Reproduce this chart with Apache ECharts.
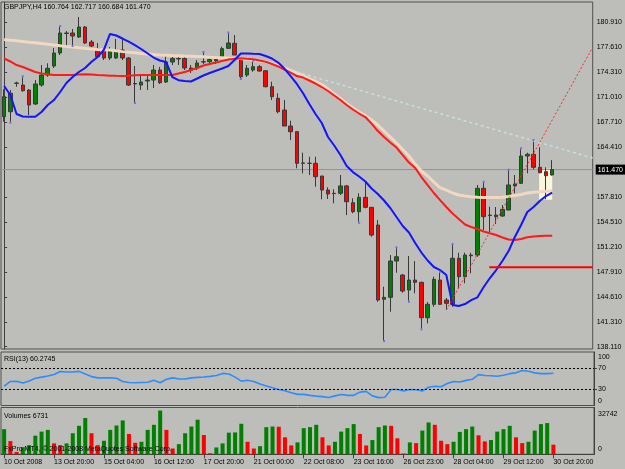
<!DOCTYPE html>
<html><head><meta charset="utf-8">
<script src="https://cdn.jsdelivr.net/npm/echarts@6/dist/echarts.min.js"></script>
<style>html,body{margin:0;padding:0;background:#bdbdb9}#c{width:625px;height:469px}</style>
</head><body><div id="c"></div>
<script>
// ---------- data ----------
const symbolName = 'GBPJPY,H4';
const opens = [168.45,169.11,172.86,172.63,171.97,170.13,172.63,173.95,175.14,176.86,
179.43,179.50,178.97,180.29,178.31,177.39,177.25,176.20,176.20,177.25,
176.20,172.83,172.63,173.16,173.29,174.61,173.03,175.67,176.07,176.13,
174.88,174.88,175.67,175.71,175.84,176.33,177.48,178.14,176.20,173.95,
174.61,175.05,174.52,172.41,170.88,169.33,167.22,166.47,162.30,162.30,
162.30,160.62,158.77,158.34,158.34,159.32,157.10,155.91,157.81,156.49,
154.15,144.35,144.61,149.40,147.55,145.57,146.89,146.59,141.92,143.69,
146.89,144.25,143.69,149.76,147.33,150.19,150.19,159.00,155.47,155.47,
155.34,156.13,159.32,159.66,163.26,163.49,161.77,161.19,160.764];
const closes = [171.09,171.54,172.90,171.88,169.99,172.77,173.95,174.84,176.86,179.50,
179.50,179.10,180.29,178.18,177.78,176.37,176.20,177.12,177.25,176.20,
172.63,172.77,173.03,173.29,174.61,172.94,175.67,176.13,176.13,174.88,
174.61,175.54,175.71,176.00,176.03,177.43,178.18,176.59,173.73,174.84,
175.05,174.48,172.41,171.09,169.11,167.22,166.47,162.30,162.35,162.30,
160.53,158.77,158.25,158.30,159.32,157.23,155.91,157.81,156.49,152.83,
144.25,144.61,149.40,149.97,145.44,146.89,146.59,141.92,143.69,146.99,
143.69,143.82,149.76,147.33,150.19,150.10,159.00,155.25,155.40,155.25,
156.22,159.44,159.57,163.26,163.49,161.77,161.06,160.66,161.470];
const lows = [167.79,167.79,172.41,171.75,168.67,169.99,172.41,173.73,174.88,176.59,
177.78,177.91,178.84,178.05,177.65,176.33,175.93,175.93,176.07,175.93,
172.50,170.39,171.97,171.97,172.24,172.77,172.90,175.27,175.27,174.61,
174.22,174.61,175.41,175.54,175.41,176.29,177.39,176.59,173.56,173.69,
174.39,174.39,172.33,170.65,168.90,167.22,165.37,161.64,160.98,160.75,
159.21,157.55,157.59,157.02,158.11,155.47,155.70,154.59,156.36,152.61,
144.03,138.97,142.71,147.86,145.22,144.16,145.14,140.52,141.18,143.37,
143.59,142.93,143.37,145.80,146.46,147.78,149.97,153.49,153.10,154.29,
155.25,156.13,158.34,159.57,160.98,161.50,160.98,157.55,160.684];
const highs = [172.07,171.97,173.07,173.65,172.10,173.29,175.27,175.50,177.52,180.29,
179.76,180.03,181.61,180.42,178.57,178.18,177.52,177.65,178.71,178.84,
176.33,175.14,174.09,173.95,175.27,175.01,176.59,176.33,176.33,176.33,
175.27,175.93,176.86,176.20,176.37,177.69,179.43,179.23,176.33,175.27,
175.71,175.27,174.61,173.07,171.54,170.65,167.92,166.56,163.70,163.17,
163.17,160.62,159.13,158.87,160.75,159.44,157.68,158.34,159.87,156.53,
154.81,146.01,150.19,151.08,147.69,150.06,149.40,146.67,143.99,147.33,
147.86,144.52,151.51,150.50,150.50,150.50,159.44,159.73,156.57,156.53,
156.79,161.32,160.75,164.15,163.70,165.24,164.41,161.77,162.717];
const maFast = [172.50,171.31,168.81,168.48,168.45,168.45,169.07,169.99,170.65,171.71,
172.90,173.69,174.35,174.88,175.67,176.33,177.25,179.37,179.17,178.77,
178.35,177.91,177.39,176.82,176.26,175.87,175.67,173.69,173.27,173.16,
173.10,173.49,173.89,174.22,174.52,174.81,175.14,175.93,176.79,176.79,
176.75,176.73,176.46,176.13,175.60,174.81,173.82,172.77,171.54,170.13,
168.81,167.62,165.77,164.65,163.39,161.94,161.14,160.55,159.90,158.97,
158.25,157.39,156.40,155.21,154.02,153.16,151.78,150.52,149.47,148.61,
148.21,147.55,143.59,143.46,143.72,144.25,144.61,145.97,147.16,148.21,
149.40,150.72,152.57,154.15,155.87,156.53,157.32,157.98,158.42];
const maMid = [176.13,175.74,175.27,175.01,174.68,174.35,174.15,174.05,173.95,173.95,
173.95,173.95,174.02,174.06,174.01,173.95,173.91,173.87,173.84,173.82,
173.86,173.91,173.95,173.95,173.95,173.95,173.95,173.95,174.15,174.35,
174.61,174.88,175.21,175.40,175.60,175.80,176.00,176.09,176.16,176.09,
176.03,175.87,175.71,175.41,175.08,174.68,174.28,173.82,173.62,173.23,
172.83,172.37,171.84,171.25,170.65,169.99,169.40,168.87,168.41,167.54,
166.56,165.77,165.04,164.38,163.39,162.40,161.68,160.49,159.43,158.38,
157.45,156.53,155.67,154.95,154.22,153.89,153.63,153.30,153.06,152.83,
152.50,152.24,152.17,152.30,152.53,152.64,152.70,152.73,152.74];
const maSlow = [178.64,178.55,178.47,178.38,178.28,178.20,178.11,178.01,177.91,177.81,
177.72,177.65,177.56,177.47,177.37,177.32,177.28,177.25,177.15,177.04,
176.95,176.88,176.80,176.74,176.66,176.59,176.57,176.53,176.50,176.46,
176.44,176.40,176.36,176.30,176.26,176.24,176.20,176.17,176.13,176.03,
175.92,175.81,175.71,175.45,175.17,174.89,174.57,174.24,173.89,173.49,
173.10,172.70,172.10,171.47,170.85,170.19,169.60,169.07,168.61,168.01,
167.35,166.56,165.77,164.98,164.12,163.26,162.20,161.28,160.62,159.83,
159.10,158.77,158.38,158.11,157.98,157.88,157.81,157.78,157.78,157.78,
157.81,157.92,158.05,158.18,158.38,158.47,158.53,158.60,158.64];
const rsi = [36,45,45.4,42,46,51,53,55,58,63.5,
62.7,62.7,63.8,59,54,51.6,51.6,51.6,51,45,
43,42.4,43,43.5,47.2,42.4,49,51.6,49.5,49.5,
51.6,52.5,53.3,54.5,56.2,60,59,53,45.5,47.2,
45,40,36.5,33,30,27.5,24,20.8,20.8,19,
17.5,16.6,15,18,20.5,19,19,25,26.4,18,
14.7,15.5,30,30,27,30,29.5,27,34,36,
35,41,45,44,47,49,57.7,56,55.5,54.8,
56.5,59.5,61,65.5,64,61,59.5,59.5,60.2745];
const volumes = [17580,9250,1640,4980,6400,13030,15870,17080,7620,6410,
7620,14730,19930,25410,14730,6410,9470,17080,20140,23700,
14240,8040,8760,17080,20640,30610,17080,4060,7120,14730,
19430,24200,13520,710,4770,7620,15160,15300,21350,8760,
4060,5690,19000,19430,19290,11890,6190,8330,18290,19000,
20640,11890,6190,8760,15870,18290,21140,14240,6190,9970,
19000,20140,19930,11180,500,8330,7830,16590,22280,20640,
9470,7120,8760,15660,17580,19430,13310,9040,9970,15870,
17580,19930,11890,7830,8760,16590,21140,21850,6731];
const timeLabels = ['10 Oct 2008','13 Oct 20:00','15 Oct 04:00','16 Oct 12:00','17 Oct 20:00','21 Oct 00:00',
'22 Oct 08:00','23 Oct 16:00','26 Oct 23:00','28 Oct 04:00','29 Oct 12:00','30 Oct 20:00'];
const priceTicks = [180.91,177.61,174.31,171.01,167.71,164.41,157.81,154.51,151.21,147.91,144.61,141.31,138.11];
const rsiTicks = [0,30,70,100];
const rsiLevels = [70,30];
const volTicks = [0,32742];
const bidPrice = 161.47;
const redTrend = [[71,142.93],[94.5,177.61]];
const cyanTrend = [[46,174.59],[94.5,163.0]];
const redLevel = [[77.9,148.57],[94.5,148.57]];
const boxCorners = [[85.9,161.58],[88,157.49]];
const fractalUpBars = [3,9,32,36,40,63,70,72,77,81,83,85];
const fractalDownBars = [1,11,21,38,57,61,65,67];
const slotCount = 95;
const labelStep = 8;

// ---------- chart ----------
const FONT = 'Liberation Sans';
const AX = '#404040';
const cats = Array.from({length: slotCount}, (_, i) => String(i));
const candles = opens.map((o, i) => [o, closes[i], lows[i], highs[i]]);
const volData = volumes.map((v, i) => ({
  value: v,
  itemStyle: {color: (i === 0 || v > volumes[i - 1]) ? '#008000' : '#ff0000'}
}));
const last = opens.length - 1;
const txt = {fontSize: 7, fontWeight: 'normal', color: '#000', fontFamily: FONT};
const chart = echarts.init(document.getElementById('c'), null, {renderer: 'canvas'});
const gridBase = {left: 1, width: 593, show: true, borderColor: '#505050', borderWidth: 1, backgroundColor: 'transparent'};

chart.setOption({
  animation: false,
  backgroundColor: '#bdbdb9',
  textStyle: {fontFamily: FONT},
  title: [
    {text: `${symbolName} ${opens[last].toFixed(3)} ${highs[last].toFixed(3)} ${lows[last].toFixed(3)} ${closes[last].toFixed(3)}`,
     left: 4, top: 4, padding: 0, textStyle: txt},
    {text: `RSI(13) ${rsi[last]}`, left: 4, top: 355.5, padding: 0, textStyle: txt},
    {text: `Volumes ${volumes[last]}`, left: 4, top: 413, padding: 0, textStyle: txt},
    {text: 'FxPro MT4, \u00a9 2001-2008 MetaQuotes Software Corp.', left: 4, top: 446, padding: 0, textStyle: txt}
  ],
  grid: [
    Object.assign({top: 2, height: 347}, gridBase),
    Object.assign({top: 352, height: 53.5}, gridBase),
    Object.assign({top: 407.5, height: 46.8}, gridBase)
  ],
  xAxis: [
    {gridIndex: 0, type: 'category', data: cats, boundaryGap: true, show: false},
    {gridIndex: 0, type: 'value', min: -0.5, max: slotCount - 0.5, show: false},
    {gridIndex: 1, type: 'category', data: cats, boundaryGap: true, show: false},
    {gridIndex: 2, type: 'category', data: cats, boundaryGap: true,
     axisLine: {show: true, lineStyle: {color: AX}},
     axisTick: {show: true, alignWithLabel: true, length: 4, lineStyle: {color: AX},
       interval: (i) => i % labelStep === 0 && i / labelStep < timeLabels.length},
     axisLabel: {show: true, align: 'left', fontSize: 7, color: '#000', margin: 4, fontFamily: FONT,
       interval: (i) => i % labelStep === 0 && i / labelStep < timeLabels.length,
       formatter: (v, i) => timeLabels[i / labelStep] || ''}}
  ],
  yAxis: [
    {gridIndex: 0, type: 'value', position: 'right', min: 137.79, max: 183.59, scale: true,
     splitLine: {show: false},
     axisLine: {show: true, lineStyle: {color: AX}},
     axisTick: {show: true, customValues: priceTicks, length: 3, lineStyle: {color: AX}},
     axisLabel: {customValues: priceTicks, formatter: (v) => v.toFixed(3), fontSize: 7, color: '#000', margin: 4, fontFamily: FONT}},
    {gridIndex: 1, type: 'value', position: 'right', min: 0, max: 100,
     splitLine: {show: false},
     axisLine: {show: true, lineStyle: {color: AX}},
     axisTick: {show: true, customValues: [30, 70], length: 3, lineStyle: {color: AX}},
     axisLabel: {customValues: rsiTicks, fontSize: 7, color: '#000', margin: 4, fontFamily: FONT,
       formatter: (v) => v === 100 ? '{t|100}' : (v === 0 ? '{b|0}' : String(v)),
       rich: {t: {fontSize: 7, fontFamily: FONT, padding: [10, 0, 0, 0]}, b: {fontSize: 7, fontFamily: FONT, padding: [0, 0, 9, 0]}}}},
    {gridIndex: 2, type: 'value', position: 'right', min: 0, max: 32742,
     splitLine: {show: false},
     axisLine: {show: true, lineStyle: {color: AX}},
     axisTick: {show: false},
     axisLabel: {customValues: volTicks, fontSize: 7, color: '#000', margin: 4, fontFamily: FONT,
       formatter: (v) => v === 0 ? '{b|0}' : '{t|' + v + '}',
       rich: {t: {fontSize: 7, fontFamily: FONT, padding: [13, 0, 0, 0]}, b: {fontSize: 7, fontFamily: FONT, padding: [0, 0, 11, 0]}}}}
  ],
  series: [
    {type: 'line', name: 'bid', xAxisIndex: 1, yAxisIndex: 0, z: 1, symbol: 'none', silent: true,
     data: [[-0.5, bidPrice], [slotCount - 0.5, bidPrice]],
     lineStyle: {color: '#8791bd', width: 1},
     endLabel: {show: true, formatter: () => bidPrice.toFixed(3), backgroundColor: '#000', color: '#fff',
       fontSize: 7, fontFamily: FONT, padding: [2, 3, 1, 2], distance: 3}},
    {type: 'line', name: 'box', xAxisIndex: 1, yAxisIndex: 0, z: 2, symbol: 'none', silent: true,
     data: boxCorners, lineStyle: {width: 0, opacity: 0},
     markArea: {silent: true, itemStyle: {color: '#f8f6dc', opacity: 1},
       data: [[{coord: boxCorners[0]}, {coord: boxCorners[1]}]]}},
    {type: 'candlestick', xAxisIndex: 0, yAxisIndex: 0, z: 3, barWidth: 4, data: candles,
     itemStyle: {color: '#008000', color0: '#ff0000', borderColor: '#383838', borderColor0: '#383838',
       borderColorDoji: '#383838', borderWidth: 1}},
    {type: 'line', name: 'maSlow', xAxisIndex: 0, yAxisIndex: 0, z: 4, symbol: 'none', data: maSlow,
     lineStyle: {color: '#f2d8c0', width: 3}},
    {type: 'line', name: 'maMid', xAxisIndex: 0, yAxisIndex: 0, z: 4, symbol: 'none', data: maMid,
     lineStyle: {color: '#ff1a1a', width: 2}},
    {type: 'line', name: 'maFast', xAxisIndex: 0, yAxisIndex: 0, z: 4, symbol: 'none', data: maFast,
     lineStyle: {color: '#1414ff', width: 2}},
    {type: 'line', name: 'cyanTrend', xAxisIndex: 1, yAxisIndex: 0, z: 5, symbol: 'none', data: cyanTrend,
     lineStyle: {color: '#c4e0e0', width: 1.5, type: [3, 3]}},
    {type: 'line', name: 'redTrend', xAxisIndex: 1, yAxisIndex: 0, z: 5, symbol: 'none', data: redTrend,
     lineStyle: {color: '#ff2a2a', width: 1, type: [2, 2]}},
    {type: 'line', name: 'redLevel', xAxisIndex: 1, yAxisIndex: 0, z: 5, symbol: 'none', data: redLevel,
     lineStyle: {color: '#ff0000', width: 2}},
    {type: 'scatter', xAxisIndex: 0, yAxisIndex: 0, z: 6, symbol: 'rect', symbolSize: [2, 2], symbolOffset: [0, -1],
     itemStyle: {color: '#5a5aff'}, data: fractalUpBars.map(i => [i, highs[i]])},
    {type: 'scatter', xAxisIndex: 0, yAxisIndex: 0, z: 6, symbol: 'rect', symbolSize: [2, 2], symbolOffset: [0, 1],
     itemStyle: {color: '#5a5aff'}, data: fractalDownBars.map(i => [i, lows[i]])},
    {type: 'line', name: 'rsi', xAxisIndex: 2, yAxisIndex: 1, symbol: 'none', data: rsi,
     lineStyle: {color: '#2e8cff', width: 1.6},
     markLine: {silent: true, symbol: 'none', label: {show: false},
       lineStyle: {color: '#000', width: 1, type: [2, 2]},
       data: rsiLevels.map(v => ({yAxis: v}))}},
    {type: 'bar', xAxisIndex: 3, yAxisIndex: 2, barWidth: 4, data: volData}
  ]
});
</script></body></html>
